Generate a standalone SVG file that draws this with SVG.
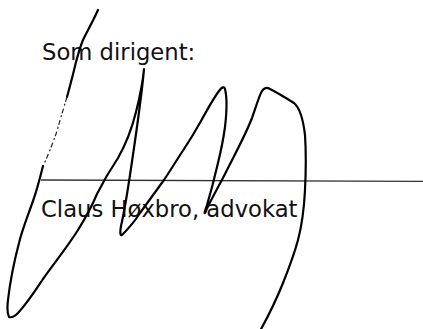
<svg xmlns="http://www.w3.org/2000/svg" width="423" height="329" viewBox="0 0 423 329">
<style>
.t{font-family:"DejaVu Sans","Verdana",sans-serif;font-size:22.7px;fill:#111}
.sig{fill:none;stroke:#000;stroke-width:2.2;stroke-linecap:round;stroke-linejoin:round}
.faint{fill:none;stroke:#222;stroke-width:1.2;stroke-dasharray:5 2 2 3}
</style>
<rect width="423" height="329" fill="#fff"/>
<g id="line"><line x1="41" y1="180" x2="423" y2="181.3" stroke="#333" stroke-width="1.3"/></g>
<g id="text1"><text class="t" x="42" y="60">Som dirigent:</text></g>
<g id="text2"><text class="t" x="41" y="217">Claus Høxbro, advokat</text></g>
<g id="signature">
<path class="sig" d="M98,10 C95,17 88,30 83,40 C80,47 78,55 76,62 C73,75 70,86 67,97"/>
<path class="faint" d="M67,97 C63,110 59,124 56,134 C52,145 47,158 43,166"/>
<path class="sig" d="M43,166 C40,178 37,190 33,201 C27,218 22,230 19,243 C14,262 10,282 8,300 C7,308 7,313 9,317 C12,318 15,316 18,313 C28,302 35,291 43,279 C55,262 68,246 78,230 C86,217 92,206 97,194 C102,184 110,170 118,158 C126,144 132,128 136,112 C140,96 143,80 144,69 C143,82 141,97 139,112 C136,135 133,155 130,175 C127,195 124,213 121,226 C120,232 120,236 122,235 C128,229 135,221 140,213 C148,202 156,191 164,180 C172,168 178,158 184,149 C190,140 196,130 201,121 C207,110 213,99 219,91 C222,87 224,86 225,89 C227,97 227,110 225,127 C223,142 220,155 217,167 C214,180 210,195 207,205 C205,211 204,214 205,213 C210,201 218,188 226,172 C236,152 245,136 252,118 C256,107 259,96 262,91 C264,88 267,87 270,89 C278,93 286,98 294,103 C300,108 303,118 305,135 C306,150 306,170 305,190 C304,210 302,225 298,240 C294,255 289,268 283,283 C277,298 270,313 260,331"/>
</g>
</svg>
